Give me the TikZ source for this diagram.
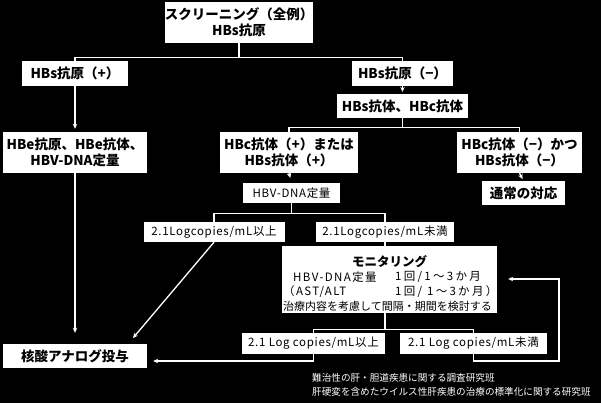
\documentclass[tikz,border=0pt]{standalone}
\usepackage{fontspec}
\setmainfont{Noto Sans CJK JP}
\newfontfamily\jpw{Noto Sans CJK JP}[LetterSpace=6]
\newfontfamily\jpa{Noto Sans CJK JP}[LetterSpace=12]
\newfontfamily\jpb{Noto Sans CJK JP}[LetterSpace=20]
\usetikzlibrary{arrows.meta}
\tikzset{
  bx/.style={fill=white, text=black, inner sep=0pt, align=center, font=\fontsize{13.5}{16}\selectfont\bfseries},
  sbx/.style={fill=white, text=black, inner sep=0pt, align=center, font=\jpw\fontsize{11.5}{13}\selectfont},
  mtxt/.style={text=black, inner sep=0pt, anchor=west, font=\fontsize{11}{13}\selectfont},
  foot/.style={text=white, inner sep=0pt, anchor=west, font=\fontsize{9.6}{11}\selectfont},
  ln/.style={draw=white, line width=1.3pt},
  ar/.style={ln, -{Stealth[length=5pt,width=4.5pt]}},
}
\begin{document}
\begin{tikzpicture}[x=1pt,y=-1pt]
\fill[black] (0,0) rectangle (601,403);
\useasboundingbox (0,0) rectangle (601,403);
% boxes
\node[bx, minimum width=144pt, minimum height=41pt] (top) at (239,22.5) {スクリーニング（全例）\\HBs抗原};
\node[bx, minimum width=106pt, minimum height=25pt] (hbsp) at (75,73.5) {HBs抗原（+）};
\node[bx, minimum width=101pt, minimum height=25pt] (hbsn) at (402.5,73.5) {HBs抗原（−）};
\node[bx, minimum width=131pt, minimum height=24pt] (hbsab) at (402.5,106) {HBs抗体、HBc抗体};
\node[bx, minimum width=144pt, minimum height=41pt] (hbe) at (75,152.5) {HBe抗原、HBe抗体、\\HBV-DNA定量};
\node[bx, minimum width=138pt, minimum height=41pt] (hbcp) at (289,152.5) {HBc抗体（+）または\\HBs抗体（+）};
\node[bx, minimum width=125pt, minimum height=41pt] (hbcn) at (519.5,152.5) {HBc抗体（−）かつ\\HBs抗体（−）};
\node[bx, minimum width=83pt, minimum height=24pt] (normal) at (523.5,193) {通常の対応};
\node[sbx, minimum width=97pt, minimum height=20pt] (dna) at (291.5,193) {HBV-DNA定量};
\node[sbx, minimum width=141pt, minimum height=20pt] (ge1) at (214,232) {2.1Logcopies/mL以上};
\node[sbx, minimum width=138pt, minimum height=20pt] (lt1) at (385,232) {2.1Logcopies/mL未満};
\node[fill=white, inner sep=0pt, minimum width=215pt, minimum height=67pt] (mon) at (389.5,279.5) {};
\node[sbx, minimum width=143pt, minimum height=21pt] (ge2) at (313.5,343.5) {2.1 Log copies/mL以上};
\node[sbx, minimum width=147pt, minimum height=21pt] (lt2) at (473.5,343.5) {2.1 Log copies/mL未満};
\node[bx, minimum width=144pt, minimum height=24pt] (nuc) at (75,356) {核酸アナログ投与};
% monitoring text
\node[text=black, inner sep=0pt, font=\fontsize{12.5}{14}\selectfont\bfseries] (mtitle) at (389.5,262) {モニタリング};
\node[mtxt, font=\jpa\fontsize{11.5}{13}\selectfont] (m1a) at (293,277) {HBV-DNA定量};
\node[mtxt, font=\jpb\fontsize{11.5}{13}\selectfont] (m1b) at (395,277) {1回/1～3か月};
\node[mtxt, font=\jpa\fontsize{11.5}{13}\selectfont] (m2a) at (283,292) {（AST/ALT};
\node[mtxt, font=\jpb\fontsize{11.5}{13}\selectfont] (m2b) at (395,292) {1回/ 1～3か月）};
\node[mtxt] (m3) at (283,306) {治療内容を考慮して間隔・期間を検討する};
% footer
\node[foot] (f1) at (312,378) {難治性の肝・胆道疾患に関する調査研究班};
\node[foot] (f2) at (312,392) {肝硬変を含めたウイルス性肝疾患の治療の標準化に関する研究班};
% connectors
\draw[ln] (top.south) -- ++(0,14) coordinate (j1);
\draw[ln] (j1) -| (hbsp.north);
\draw[ln] (j1) -| (hbsn.north);
\draw[ar, shorten >=3pt] (hbsp.south) -- (hbe.north);
\draw[ar, shorten >=2pt] (hbsn.south) -- (hbsab.north);
\draw[ln] (hbsab.south) -- ++(0,9) coordinate (j2);
\draw[ln] (j2) -| (hbcp.north);
\draw[ln] (j2) -| (hbcn.north);
\draw[ar, shorten >=5pt] (hbcp.south) -- (dna.north);
\draw[ar, shorten >=2pt] (hbcn.south) -- (normal.north);
\draw[ln] (dna.south) -- ++(0,10) coordinate (j3);
\draw[ln] (j3) -| (ge1.north);
\draw[ln] (j3) -| (lt1.north);
\draw[ln] (lt1.south) -- (mon.north -| lt1.south);
\coordinate (d1) at (133,338);
\draw[ar] (ge1.south) -- (d1);
\draw[ar, shorten >=11pt] (hbe.south) -- (nuc.north);
\draw[ln] (mon.south -| lt1.south) -- ++(0,16) coordinate (j5);
\draw[ln] (j5) -| (ge2.north);
\draw[ln] (j5) -| (lt2.north);
\coordinate (c2) at (316,361);
\coordinate (c4) at (559,361);
\coordinate (c5) at (559,279);
\draw[ar, shorten >=6pt] (ge2.south) -- (ge2.south |- c2) -- (c2 -| nuc.east);
\draw[ar, shorten >=11pt] (lt2.south) |- (c4) -- (c5) -- (c5 -| mon.east);
\end{tikzpicture}
\end{document}
